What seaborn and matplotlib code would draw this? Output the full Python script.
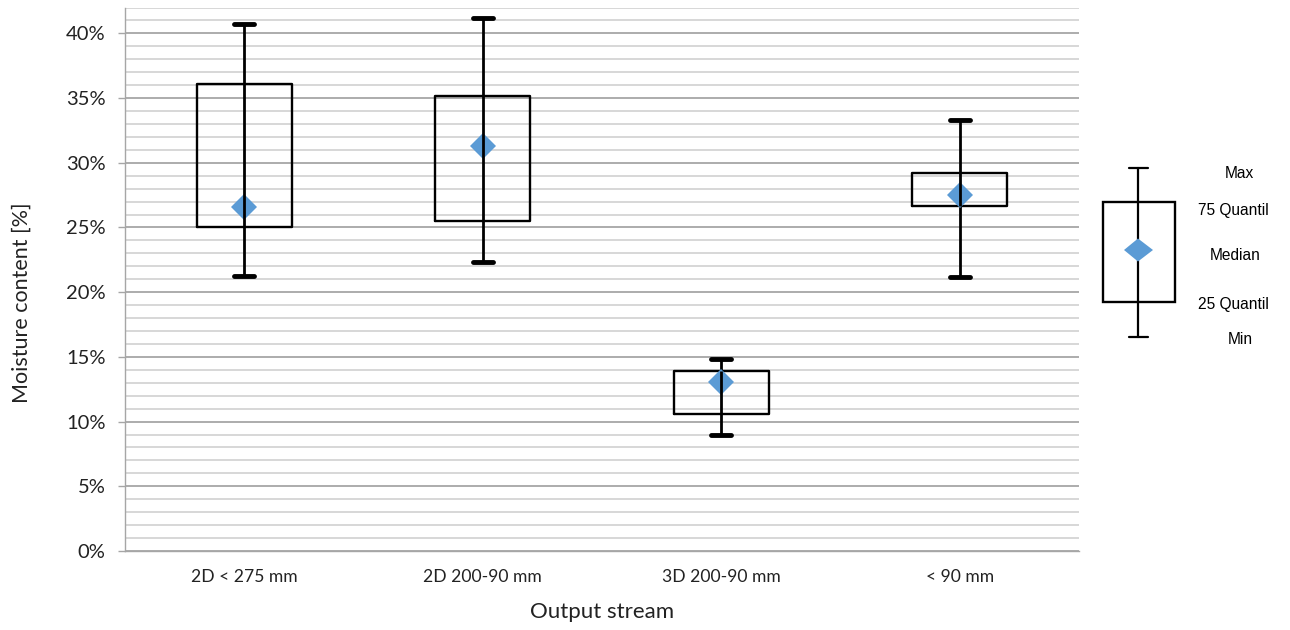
import numpy as np
import pandas as pd
import matplotlib
matplotlib.use("Agg")
import matplotlib.pyplot as plt
import seaborn as sns
from matplotlib.ticker import MultipleLocator, PercentFormatter, FixedLocator
from matplotlib.patches import Rectangle, Polygon

# --- data (moisture content in %) ---
categories = ["2D < 275 mm", "2D 200-90 mm", "3D 200-90 mm", "< 90 mm"]
mins = [21.26, 22.34, 8.97, 21.18]
q1s = [25.05, 25.52, 10.60, 26.68]
medians = [26.55, 31.31, 13.07, 27.53]
q3s = [36.08, 35.13, 13.92, 29.23]
maxs = [40.72, 41.16, 14.85, 33.28]

legend_labels = ["Max", "75 Quantil", "Median", "25 Quantil", "Min"]

# five points per group -> boxplot quartiles land exactly on q1/median/q3
rows = []
for i, cat in enumerate(categories):
    for v in (mins[i], q1s[i], medians[i], q3s[i], maxs[i]):
        rows.append({"stream": cat, "moisture": v})
df = pd.DataFrame(rows)

BLUE = "#5B9BD5"

sns.set_style("white")
plt.rcParams["font.family"] = ["Lato", "DejaVu Sans"]

fig = plt.figure(figsize=(12.9, 6.3), dpi=100)
ax = fig.add_axes([125 / 1290, 1 - 551 / 630, 954 / 1290, 543.5 / 630])

sns.boxplot(ax=ax, data=df, x="stream", y="moisture", order=categories,
            whis=(0, 100), width=0.4, fill=False, color="black",
            linewidth=1.7,
            medianprops={"visible": False},
            whiskerprops={"linewidth": 2.0},
            capprops={"linewidth": 3.5})

# shorten the caps
for ln in ax.lines:
    xd, yd = np.asarray(ln.get_xdata(), float), np.asarray(ln.get_ydata(), float)
    if len(xd) == 2 and yd[0] == yd[1] and xd[0] != xd[1]:
        c = xd.mean()
        ln.set_xdata([c - 0.042, c + 0.042])

# median diamonds
sns.pointplot(ax=ax, x=categories, y=medians, order=categories, color=BLUE,
              marker="D", markersize=13, linestyle="none", errorbar=None,
              markeredgewidth=0, zorder=4)

# whisker line running through the box
ax.vlines(np.arange(len(categories)), q1s, q3s, color="black", lw=2.0, zorder=5)

ax.set_xlim(-0.5, len(categories) - 0.5)
ax.set_ylim(0, 42)
ax.yaxis.set_major_locator(MultipleLocator(5))
ax.yaxis.set_minor_locator(MultipleLocator(1))
ax.yaxis.set_major_formatter(PercentFormatter(xmax=100, decimals=0))
ax.set_axisbelow(True)
ax.yaxis.grid(True, which="minor", color="#d4d4d4", lw=1.3)
ax.yaxis.grid(True, which="major", color="#a6a6a6", lw=1.3)
ax.xaxis.grid(False)

ax.xaxis.set_minor_locator(FixedLocator(np.arange(-0.5, len(categories), 1.0)))
ax.tick_params(axis="x", which="major", length=0, pad=13, labelsize=12.6, colors="#222222")
ax.tick_params(axis="x", which="minor", length=5, width=1, color="#a6a6a6", direction="out")
ax.tick_params(axis="y", which="major", length=5, width=1, color="#a6a6a6",
               direction="out", pad=9, labelsize=14.5, labelcolor="#222222", left=True)
ax.tick_params(axis="y", which="minor", length=0)

for side in ("top", "right"):
    ax.spines[side].set_visible(False)
for side in ("left", "bottom"):
    ax.spines[side].set_color("#a6a6a6")
    ax.spines[side].set_linewidth(1.0)

ax.set_xlabel("Output stream", fontsize=16, color="#222222")
ax.set_ylabel("Moisture content [%]", fontsize=15.5, color="#222222")
ax.xaxis.set_label_coords(0.5, -0.093)
ax.yaxis.set_label_coords(-0.098, 0.456)

# --- legend key drawn in pixel coordinates ---
lg = fig.add_axes([0, 0, 1, 1], facecolor="none")
lg.set_xlim(0, 1290)
lg.set_ylim(630, 0)
lg.axis("off")
lg.add_patch(Rectangle((1103, 202), 72, 100, fill=False, ec="black", lw=1.7, zorder=2))
lg.plot([1138, 1138], [168, 337], color="black", lw=1.6, zorder=3)
lg.plot([1129, 1148], [168, 168], color="black", lw=1.6, zorder=3)
lg.plot([1129, 1148], [337, 337], color="black", lw=1.6, zorder=3)
lg.add_patch(Polygon([(1124, 250), (1138, 238.5), (1153, 250), (1138, 261.5)],
                     closed=True, fc=BLUE, ec="none", zorder=4))
label_pos = [(1239, 174), (1233, 211), (1235, 255), (1233, 304), (1240, 340)]
for txt, (x, y) in zip(legend_labels, label_pos):
    lg.text(x, y, txt, ha="center", va="center", fontsize=11.2,
            family=["Liberation Sans", "DejaVu Sans"], color="black")

fig.savefig("out.png", dpi=100)
